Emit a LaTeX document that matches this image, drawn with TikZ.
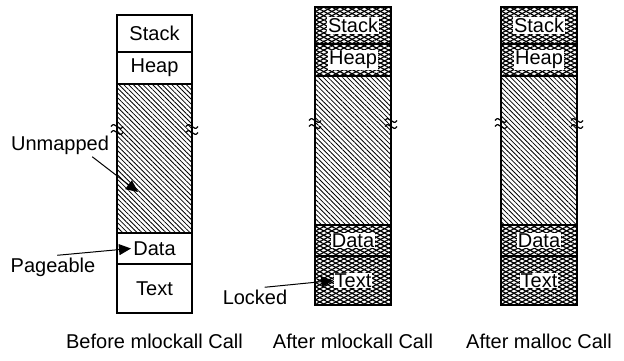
\documentclass[tikz,border=0pt]{standalone}
\usepackage{fontspec}
\setmainfont{Liberation Sans}
\usetikzlibrary{arrows.meta,patterns.meta}

\begin{document}
\begin{tikzpicture}[x=0.5pt, y=-0.5pt, font=\fontsize{10}{12}\selectfont,
  box/.style={line width=0.6pt},
  sep/.style={line width=1.1pt},
  hatched/.style={pattern={Lines[angle=-45, distance=1.7pt, line width=0.4pt]}},
  locked/.style={pattern={Lines[angle=-28, distance=1.9pt, line width=0.6pt]},
    postaction={pattern={Lines[angle=28, distance=1.9pt, line width=0.6pt]}}},
  txt/.style={inner sep=1pt},
  lockedtxt/.style={fill=white, inner sep=0.5pt},
  arr/.style={-{Triangle[length=6pt, width=5.5pt]}, line width=0.5pt},
  brk/.pic={\draw[line width=0.6pt] (-6,-2.5) .. controls (-2,-9) and (2,4) .. (6,-2.5)
    (-6,3.5) .. controls (-2,-3) and (2,10) .. (6,3.5);}]
  \useasboundingbox (0,0) rectangle (624,360);

  % Before mlockall
  \path[hatched] (117,84) rectangle (192,233);
  \draw[box] (117,15) rectangle (192,313);
  \draw[box] (117,52) -- (192,52) (117,84) -- (192,84) (117,233) -- (192,233) (117,264) -- (192,264);
  \node[txt] (s1) at (154.5,33.5) {Stack};
  \node[txt] (h1) at (154.5,68) {Heap};
  \node[txt] (d1) at (154.5,248.5) {Data};
  \node[txt] (t1) at (154.5,288.5) {Text};
  \pic at (117,129) {brk};
  \pic at (192,129) {brk};

  % After mlockall
  \path[locked] (315,7) rectangle (391,76);
  \path[hatched] (315,76) rectangle (391,225);
  \path[locked] (315,225) rectangle (391,305);
  \draw[box] (315,7) rectangle (391,305);
  \draw[box] (315,76) -- (391,76) (315,225) -- (391,225);
  \draw[sep] (315,44) -- (391,44) (315,256) -- (391,256);
  \node[lockedtxt] (s2) at (353,25.5) {Stack};
  \node[lockedtxt] (h2) at (353,60) {Heap};
  \node[lockedtxt] (d2) at (353,240.5) {Data};
  \node[lockedtxt] (t2) at (353,280.5) {Text};
  \pic at (315,123) {brk};
  \pic at (391,123) {brk};

  % After malloc
  \path[locked] (501,7) rectangle (577,76);
  \path[hatched] (501,76) rectangle (577,225);
  \path[locked] (501,225) rectangle (577,305);
  \draw[box] (501,7) rectangle (577,305);
  \draw[box] (501,76) -- (577,76) (501,225) -- (577,225);
  \draw[sep] (501,44) -- (577,44) (501,256) -- (577,256);
  \node[lockedtxt] (s3) at (539,25.5) {Stack};
  \node[lockedtxt] (h3) at (539,60) {Heap};
  \node[lockedtxt] (d3) at (539,240.5) {Data};
  \node[lockedtxt] (t3) at (539,280.5) {Text};
  \pic at (501,123) {brk};
  \pic at (577,123) {brk};

  % labels
  \node[txt] (unm) at (60,145) {Unmapped};
  \node[txt] (pag) at (53,267) {Pageable};
  \node[txt] (lck) at (255,297) {Locked};
  \coordinate (unmtip) at (138,192);
  \draw[arr] (unm.340) -- (unmtip);
  \draw[arr] (pag.70) -- (d1.west);
  \draw[arr] (lck.45) -- (t2.west);

  \node (cap1) at (154.5,341) {Before mlockall Call};
  \node (cap2) at (353,341) {After mlockall Call};
  \node (cap3) at (539,341) {After malloc Call};
\end{tikzpicture}
\end{document}
